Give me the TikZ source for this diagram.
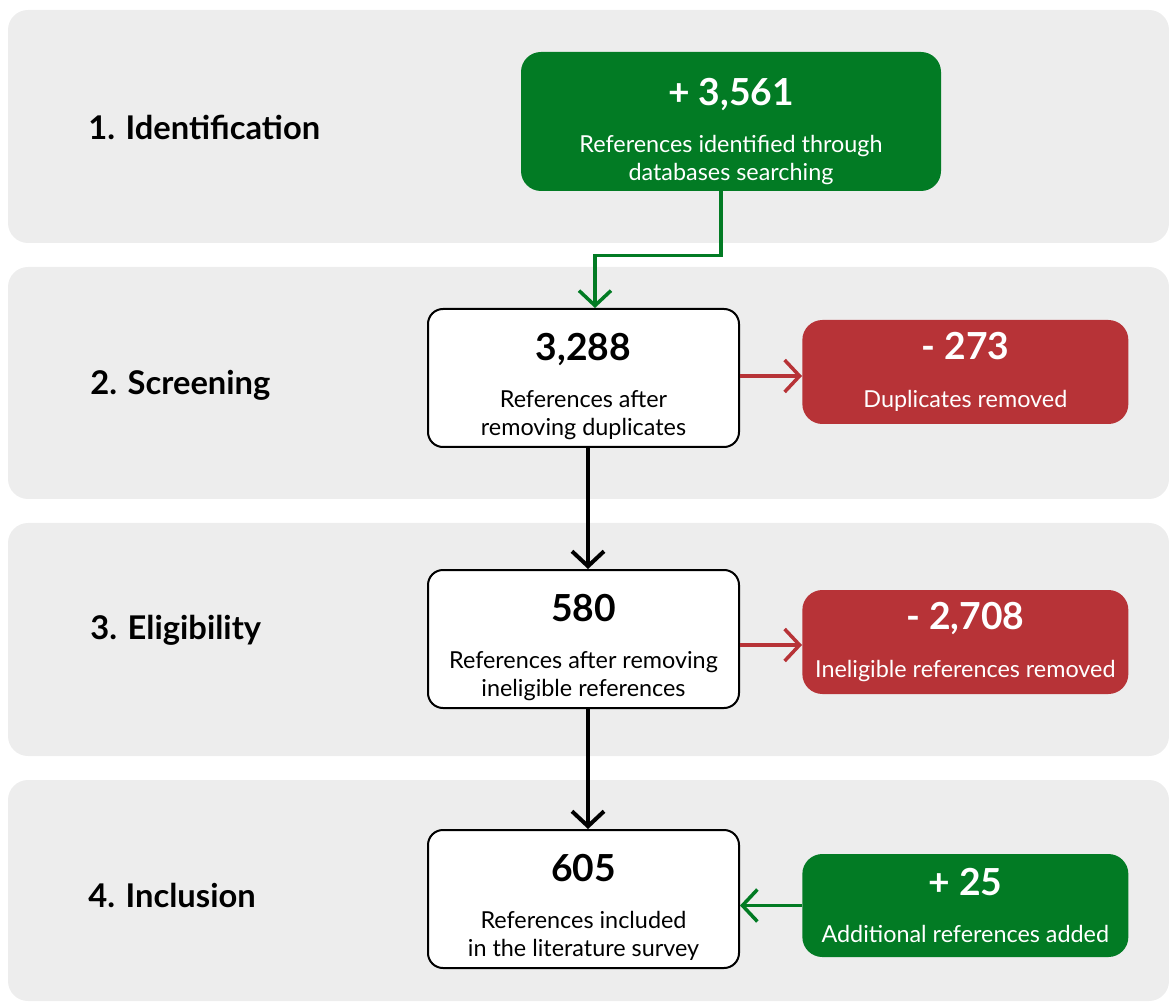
\documentclass[tikz,border=0pt]{standalone}
\usepackage{fontspec}
\setmainfont{Lato}
\usetikzlibrary{arrows.meta, calc, positioning}
\definecolor{prgreen}{HTML}{027B24}
\definecolor{prred}{HTML}{B73337}
\definecolor{bandgray}{HTML}{EDEDED}
\newcommand{\bignum}{\fontsize{21.2}{24}\selectfont\bfseries}
\newcommand{\headline}[2][15pt]{{\bignum\rule{0pt}{#1}#2}}
\tikzset
{%
stage/.style={anchor=west, inner sep=0pt, font=\fontsize{18.6}{22}\selectfont\bfseries},
card/.style={align=center, inner sep=0pt, font=\fontsize{13.3}{16}\selectfont},
flow/.style={card, draw, fill=white, line width=0.4mm, rounded corners=3mm, minimum width=62.2mm, minimum height=27.6mm},
gain/.style={card, fill=prgreen, text=white, rounded corners=4mm, minimum width=65.2mm, minimum height=20.6mm},
loss/.style={card, fill=prred, text=white, rounded corners=4mm, minimum width=65.2mm, minimum height=20.8mm},
barrow/.style={-{Straight Barb[length=3mm, width=6.4mm]}, line width=0.8mm},
garrow/.style={-{Straight Barb[length=3mm, width=6.4mm]}, line width=0.7mm, draw=prgreen},
rarrow/.style={-{Straight Barb[length=3mm, width=6.4mm]}, line width=0.7mm, draw=prred}
}
\begin{document}
\begin{tikzpicture}[x=0.2mm, y=-0.2mm]
	\useasboundingbox (0,0) rectangle (1169,1002);
	
	%Bands
	\foreach \top/\bot in {10/243, 267/499, 523/756, 780/1001}
		\fill[bandgray, rounded corners=4mm] (8,\top) rectangle (1169,\bot);
	
	%Stage labels
	\node[stage] (lab1) at (88,127) {1. Identification};
	\node[stage] (lab2) at (90,385) {2. Screening};
	\node[stage] (lab3) at (90,630) {3. Eligibility};
	\node[stage] (lab4) at (88,895) {4. Inclusion};
	
	%Main column
	\node[gain, minimum width=84mm, minimum height=27.8mm] (ident) at (731,121.5)
		{\headline[27pt]{+ 3,561}\\[11pt]References identified through\\databases searching};
	\node[flow] (scr) at (583.5,378)
		{\headline[25pt]{3,288}\\[11pt]References after\\removing duplicates};
	\node[flow, below=24.2mm of scr] (elig)
		{\headline[25pt]{580}\\[11pt]References after removing\\ineligible references};
	\node[flow, below=24mm of elig] (incl)
		{\headline[25pt]{605}\\[11pt]References included\\in the literature survey};
	
	%Side boxes
	\node[loss, right=12.4mm of scr, yshift=1.2mm] (dup)
		{\headline{- 273}\\[11pt]Duplicates removed};
	\node[loss, right=12.4mm of elig, yshift=-0.6mm] (inel)
		{\headline{- 2,708}\\[11pt]Ineligible references removed};
	\node[gain, right=12.4mm of incl, yshift=-1.3mm] (add)
		{\headline{+ 25}\\[11pt]Additional references added};
	
	\draw[garrow] ([xshift=-2mm]ident.south) -- ++(0,-12.8mm) -| ([xshift=2.3mm]scr.north);
	\draw[rarrow] ([yshift=0.4mm]scr.east) -- ([yshift=0.4mm]scr.east -| dup.west);
	\draw[rarrow] ([yshift=-1.2mm]elig.east) -- ([yshift=-1.2mm]elig.east -| inel.west);
	\draw[barrow] ([xshift=0.9mm]scr.south) -- ([xshift=0.9mm]elig.north);
	\draw[barrow] ([xshift=0.9mm]elig.south) -- ([xshift=0.9mm]incl.north);
	\draw[garrow] (add.west) -- (add.west -| incl.east);
\end{tikzpicture}
\end{document}
